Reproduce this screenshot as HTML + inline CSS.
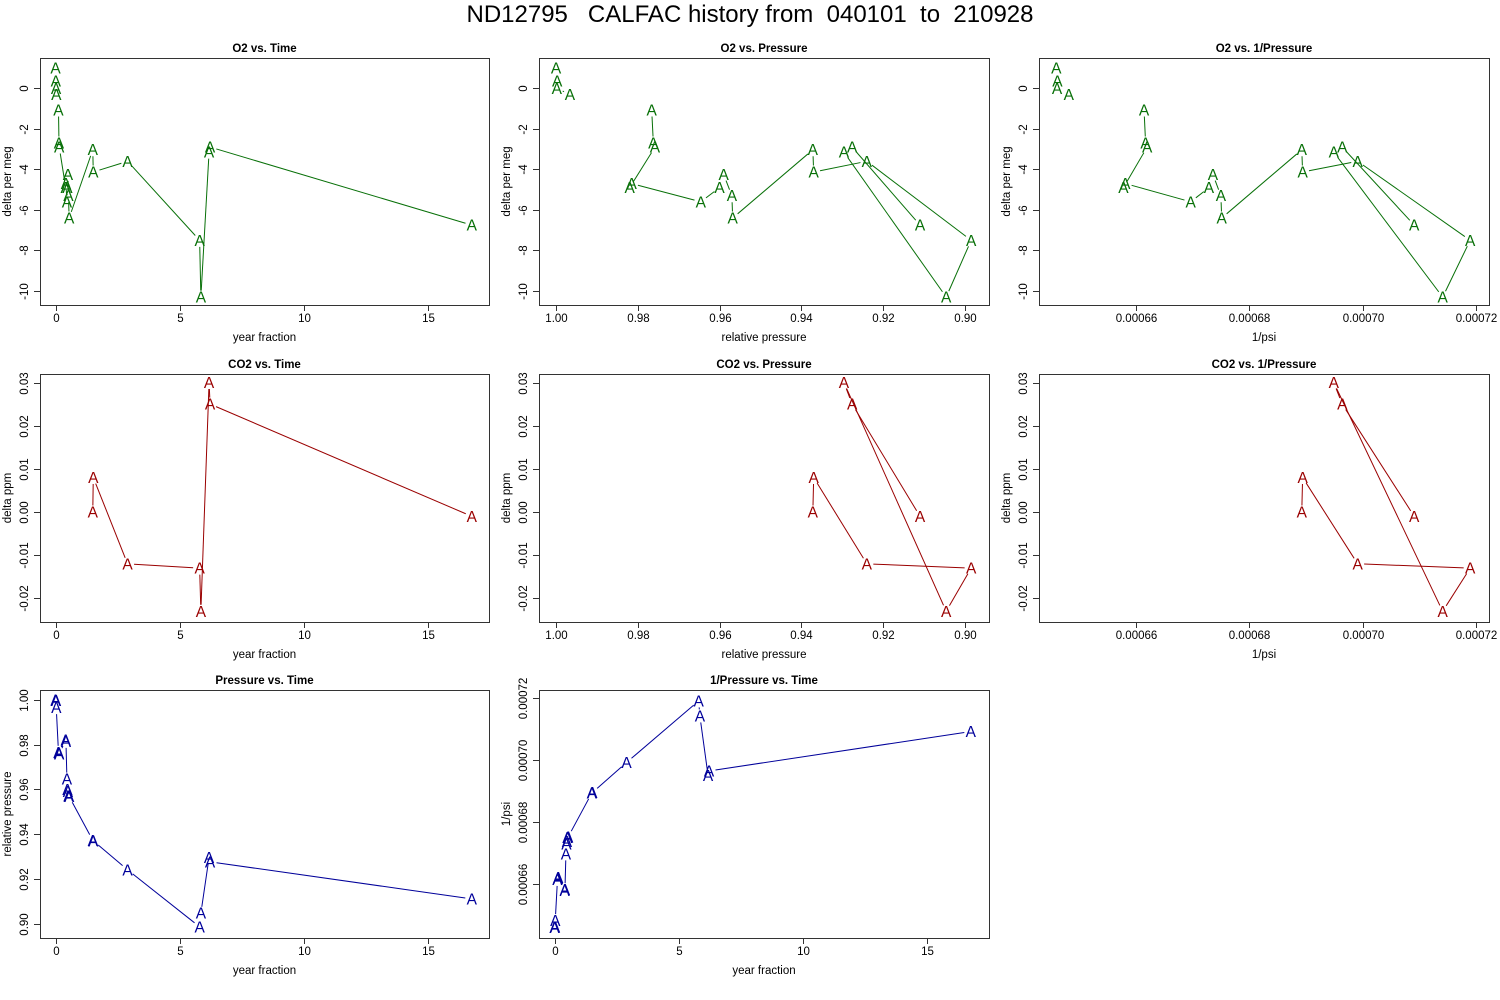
<!DOCTYPE html>
<html><head><meta charset="utf-8"><style>
html,body{margin:0;padding:0;background:#fff}
svg{display:block;font-family:"Liberation Sans",Arial,sans-serif}
</style></head><body>
<svg id="chart" width="1500" height="1000" viewBox="0 0 1500 1000" xmlns="http://www.w3.org/2000/svg">
<rect x="0" y="0" width="1500" height="1000" fill="#fff"/>
<text x="750" y="22" text-anchor="middle" font-size="24" fill="#000" xml:space="preserve">ND12795   CALFAC history from  040101  to  210928</text>
</svg>
<script>
// ---- data (time order) ----
const yearFraction = [0.00,0.01,0.02,0.03,0.12,0.14,0.15,0.41,0.42,0.46,0.48,0.50,0.52,0.55,1.50,1.52,2.90,5.80,5.85,6.18,6.22,16.75];
const relPressure = [1.0000,0.9997,0.9998,0.9966,0.9766,0.9762,0.9758,0.9820,0.9815,0.9646,0.9600,0.9590,0.9570,0.9568,0.9372,0.9370,0.9240,0.8985,0.9046,0.9296,0.9276,0.9110];
const o2Delta = [1.00,0.35,0.00,-0.30,-1.07,-2.70,-2.90,-4.90,-4.70,-5.60,-4.90,-4.25,-5.30,-6.40,-3.03,-4.13,-3.60,-7.50,-10.30,-3.15,-2.90,-6.75];
const co2Delta = [null,null,null,null,null,null,null,null,null,null,null,null,null,null,0.000,0.008,-0.012,-0.013,-0.023,0.030,0.025,-0.001];
const o2LineBreaks = [4];
const refPsi = 1548;
const timeTicks = [0,5,10,15];
const pressTicks = [1.00,0.98,0.96,0.94,0.92,0.90];
const pressTickLabels = ["1.00","0.98","0.96","0.94","0.92","0.90"];
const invTicks = [0.00066,0.00068,0.00070,0.00072];
const invTickLabels = ["0.00066","0.00068","0.00070","0.00072"];
const o2Ticks = [0,-2,-4,-6,-8,-10];
const o2TickLabels = ["0","-2","-4","-6","-8","-10"];
const co2Ticks = [0.03,0.02,0.01,0.00,-0.01,-0.02];
const co2TickLabels = ["0.03","0.02","0.01","0.00","-0.01","-0.02"];
const pTicksY = [1.00,0.98,0.96,0.94,0.92,0.90];
const pTickLabelsY = ["1.00","0.98","0.96","0.94","0.92","0.90"];

const invPsi = relPressure.map(p => 1/(refPsi*p));

const NS = "http://www.w3.org/2000/svg";
const svg = document.getElementById('chart');
function mk(tag, attrs, parent){
  const e = document.createElementNS(NS, tag);
  for (const k in attrs) e.setAttribute(k, attrs[k]);
  (parent||svg).appendChild(e);
  return e;
}
function lin(v1,p1,v2,p2){ return v => p1 + (v - v1)*(p2 - p1)/(v2 - v1); }

const cols = [[40,489],[539,989],[1039,1489]];
const rows = [[58,305],[374,622],[690,938]];
function timeX(c){ const o = cols[c][0]+15.5; return lin(0,o,5,o+124.25); }
function pressX(c){ const o = cols[c][0]; return lin(1.00,o+17,0.90,o+426); }
function invX(c){ const o = cols[c][0]; return lin(0.00066,o+96.7,0.00072,o+437); }
function o2Y(r){ const o = rows[r][0]; return lin(0,o+30.3,-10,o+233); }
function co2Y(r){ const o = rows[r][0]; return lin(0,o+138,0.03,o+8.5); }
function presY(r){ const o = rows[r][0]; return lin(1.00,o+10,0.90,o+233.5); }
function invY(r){ const o = rows[r][0]; return lin(0.00072,o+7.7,0.00066,o+194); }

const GREEN="#087008", RED="#9a0000", BLUE="#00009a";

function panel(opt){
  const [x0,x1] = cols[opt.c], [y0,y1] = rows[opt.r];
  const g = mk('g',{});
  
  
  const box = mk('rect',{x:x0+0.5,y:y0+0.5,width:x1-x0,height:y1-y0,fill:'none',stroke:'#333','stroke-width':1},g);
  
  
  const t = mk('text',{x:(x0+x1)/2,y:y0-6,'text-anchor':'middle','font-size':11.5,'font-weight':'bold',fill:'#000'},g);
  t.textContent = opt.title;
  
  
  const xa = mk('g',{},g);
  
  
  opt.xticks.forEach((v,i)=>{
    const px = Math.round(opt.fx(v))+0.5;
    mk('line',{x1:px,x2:px,y1:y1,y2:y1+6,stroke:'#333'},xa);
    const tl = mk('text',{x:px,y:y1+17,'text-anchor':'middle','font-size':11.5,fill:'#000'},xa);
    tl.textContent = opt.xlabels[i];
    
    
  });
  const xt = mk('text',{x:(x0+x1)/2,y:y1+36,'text-anchor':'middle','font-size':11.5,fill:'#000'},g);
  xt.textContent = opt.xtitle;
  
  
  const ya = mk('g',{},g);
  
  
  opt.yticks.forEach((v,i)=>{
    const py = Math.round(opt.fy(v))+0.5;
    mk('line',{x1:x0-6,x2:x0,y1:py,y2:py,stroke:'#333'},ya);
    const lx = x0-12;
    const tl = mk('text',{x:lx,y:py,'text-anchor':'middle','font-size':11.5,fill:'#000',transform:`rotate(-90 ${lx} ${py})`},ya);
    tl.textContent = opt.ylabels[i];
    
    
  });
  const yx = x0-29, yy = (y0+y1)/2;
  const yt = mk('text',{x:yx,y:yy,'text-anchor':'middle','font-size':11.5,fill:'#000',transform:`rotate(-90 ${yx} ${yy})`},g);
  yt.textContent = opt.ytitle;
  
  
  const breaks = opt.breaks || [];
  const pts = [];
  for (let i=0;i<opt.xs.length;i++){
    if (opt.ys[i]===null || opt.ys[i]===undefined) continue;
    pts.push([opt.fx(opt.xs[i]), opt.fy(opt.ys[i]), i]);
  }
  const sg = mk('g',{},g);
  
  
  for (let i=0;i<pts.length-1;i++){
    const [ax,ay]=pts[i],[bx,by,bi]=pts[i+1];
    if (breaks.indexOf(bi) >= 0) continue;
    const d = Math.hypot(bx-ax,by-ay);
    if (d < 14) continue;
    const ux=(bx-ax)/d, uy=(by-ay)/d, gap=6.5;
    const seg = mk('line',{x1:ax+ux*gap,y1:ay+uy*gap,x2:bx-ux*gap,y2:by-uy*gap,stroke:opt.color,'stroke-width':1},sg);
    
    
  }
  pts.forEach(([px,py])=>{
    const a = mk('text',{x:px,y:py+5.5,'text-anchor':'middle','font-size':15.5,fill:opt.color},sg);
    a.textContent = 'A';
    
    
  });
}

const tl = timeTicks.map(String);
panel({name:'o2-vs-time',c:0,r:0,title:'O2 vs. Time',xs:yearFraction,ys:o2Delta,breaks:o2LineBreaks,fx:timeX(0),fy:o2Y(0),xticks:timeTicks,xlabels:tl,yticks:o2Ticks,ylabels:o2TickLabels,xtitle:'year fraction',ytitle:'delta per meg',color:GREEN});
panel({name:'o2-vs-pressure',c:1,r:0,title:'O2 vs. Pressure',xs:relPressure,ys:o2Delta,breaks:o2LineBreaks,fx:pressX(1),fy:o2Y(0),xticks:pressTicks,xlabels:pressTickLabels,yticks:o2Ticks,ylabels:o2TickLabels,xtitle:'relative pressure',ytitle:'delta per meg',color:GREEN});
panel({name:'o2-vs-inv-pressure',c:2,r:0,title:'O2 vs. 1/Pressure',xs:invPsi,ys:o2Delta,breaks:o2LineBreaks,fx:invX(2),fy:o2Y(0),xticks:invTicks,xlabels:invTickLabels,yticks:o2Ticks,ylabels:o2TickLabels,xtitle:'1/psi',ytitle:'delta per meg',color:GREEN});
panel({name:'co2-vs-time',c:0,r:1,title:'CO2 vs. Time',xs:yearFraction,ys:co2Delta,fx:timeX(0),fy:co2Y(1),xticks:timeTicks,xlabels:tl,yticks:co2Ticks,ylabels:co2TickLabels,xtitle:'year fraction',ytitle:'delta ppm',color:RED});
panel({name:'co2-vs-pressure',c:1,r:1,title:'CO2 vs. Pressure',xs:relPressure,ys:co2Delta,fx:pressX(1),fy:co2Y(1),xticks:pressTicks,xlabels:pressTickLabels,yticks:co2Ticks,ylabels:co2TickLabels,xtitle:'relative pressure',ytitle:'delta ppm',color:RED});
panel({name:'co2-vs-inv-pressure',c:2,r:1,title:'CO2 vs. 1/Pressure',xs:invPsi,ys:co2Delta,fx:invX(2),fy:co2Y(1),xticks:invTicks,xlabels:invTickLabels,yticks:co2Ticks,ylabels:co2TickLabels,xtitle:'1/psi',ytitle:'delta ppm',color:RED});
panel({name:'pressure-vs-time',c:0,r:2,title:'Pressure vs. Time',xs:yearFraction,ys:relPressure,fx:timeX(0),fy:presY(2),xticks:timeTicks,xlabels:tl,yticks:pTicksY,ylabels:pTickLabelsY,xtitle:'year fraction',ytitle:'relative pressure',color:BLUE});
panel({name:'inv-pressure-vs-time',c:1,r:2,title:'1/Pressure vs. Time',xs:yearFraction,ys:invPsi,fx:timeX(1),fy:invY(2),xticks:timeTicks,xlabels:tl,yticks:invTicks,ylabels:invTickLabels,xtitle:'year fraction',ytitle:'1/psi',color:BLUE});
</script>
</body></html>
